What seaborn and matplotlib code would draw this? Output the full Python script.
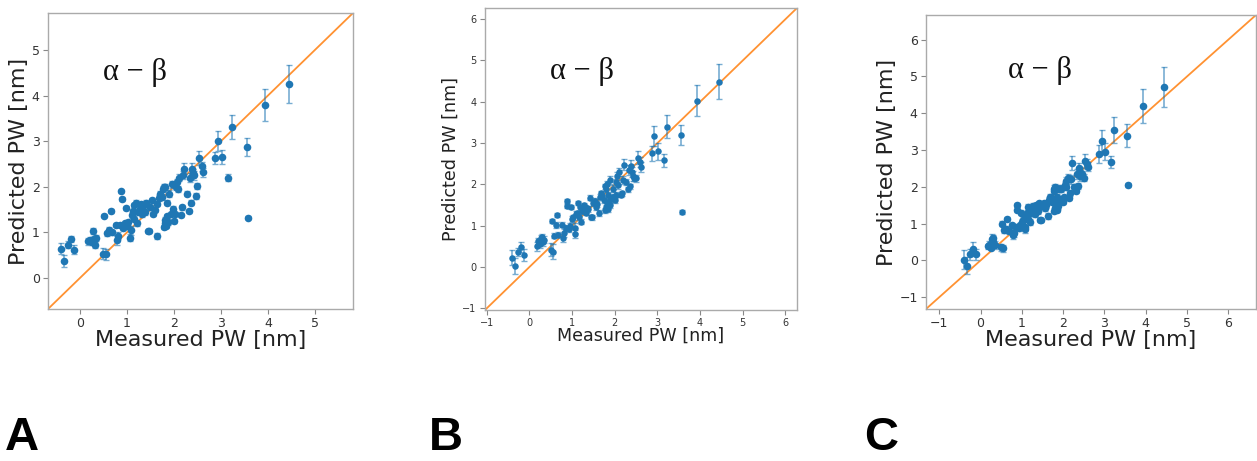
import numpy as np
import pandas as pd
import matplotlib
matplotlib.use("Agg")
import matplotlib.pyplot as plt
import seaborn as sns

# ---------------- data ----------------
measured = [
    -0.40, -0.33, -0.26, -0.19, -0.12,
    0.18, 0.21, 0.25, 0.28, 0.31, 0.34, 0.30,
    0.50, 0.55, 0.52, 0.57, 0.62, 0.65, 0.68,
    0.77, 0.79, 0.81, 0.85, 0.88, 0.89, 0.92, 0.95, 0.97, 1.00, 1.03,
    1.07, 1.08, 1.10, 1.12, 1.14, 1.16, 1.19, 1.21, 1.24, 1.27, 1.30, 1.32,
    1.35, 1.38, 1.41, 1.44, 1.47, 1.50, 1.53, 1.56, 1.59, 1.63, 1.65, 1.68,
    1.71, 1.74, 1.77, 1.79, 1.81, 1.78, 1.80, 1.82, 1.84, 1.86, 1.88, 1.85,
    1.90, 1.93,
    1.95, 1.97, 2.00, 2.02, 2.04, 2.06, 2.08, 2.11, 2.14, 2.17, 2.19, 2.22,
    2.27, 2.32, 2.34, 2.36, 2.38, 2.40, 2.42, 2.46, 2.50, 2.54, 2.59, 2.61,
    2.88, 2.93, 3.02, 3.16, 3.23, 3.55, 3.58, 3.93, 4.45,
]

pred_A = [
    0.64, 0.37, 0.73, 0.86, 0.62,
    0.80, 0.83, 0.78, 1.03, 0.72, 0.87, 0.85,
    0.53, 0.52, 1.37, 0.98, 1.05, 1.47, 1.00,
    1.16, 0.83, 0.93, 1.16, 1.90, 1.73, 1.10, 1.20, 1.53, 1.15, 1.22,
    0.88, 1.05, 1.38, 1.47, 1.60, 1.30, 1.65, 1.20, 1.45, 1.52, 1.62, 1.40,
    1.58, 1.45, 1.65, 1.02, 1.03, 1.55, 1.70, 1.40, 1.50, 0.92, 1.62, 1.75,
    1.85, 1.78, 1.95, 2.00, 2.00, 1.12, 1.20, 1.28, 1.15, 1.35, 1.22, 1.65,
    1.85, 1.40,
    2.05, 1.52, 1.25, 1.40, 2.00, 2.10, 1.95, 2.20, 1.38, 1.55, 2.25, 2.40,
    1.85, 1.47, 2.20, 1.65, 2.40, 2.30, 2.25, 1.80, 2.02, 2.63, 2.45, 2.32,
    2.63, 3.00, 2.65, 2.20, 3.31, 2.87, 1.32, 3.80, 4.25,
]
err_A = [
    0.12, 0.14, 0.08, 0.07, 0.10,
    0.08, 0.07, 0.06, 0.06, 0.06, 0.07, 0.06,
    0.12, 0.12, 0.04, 0.05, 0.06, 0.04, 0.05,
    0.05, 0.10, 0.08, 0.05, 0.04, 0.04, 0.05, 0.06, 0.04, 0.06, 0.05,
    0.08, 0.10, 0.06, 0.05, 0.05, 0.06, 0.05, 0.06, 0.05, 0.05, 0.05, 0.06,
    0.05, 0.06, 0.05, 0.04, 0.04, 0.06, 0.05, 0.05, 0.06, 0.06, 0.05, 0.06,
    0.06, 0.06, 0.06, 0.07, 0.06, 0.05, 0.05, 0.05, 0.05, 0.05, 0.05, 0.06,
    0.07, 0.05,
    0.07, 0.05, 0.05, 0.05, 0.07, 0.08, 0.07, 0.08, 0.05, 0.06, 0.09, 0.12,
    0.06, 0.05, 0.10, 0.06, 0.12, 0.10, 0.10, 0.06, 0.07, 0.15, 0.10, 0.10,
    0.13, 0.22, 0.15, 0.07, 0.27, 0.20, 0.03, 0.35, 0.42,
]

pred_B = [
    0.23, 0.03, 0.37, 0.48, 0.29,
    0.50, 0.62, 0.55, 0.70, 0.60, 0.66, 0.72,
    0.42, 0.37, 1.12, 0.76, 1.02, 1.27, 0.78,
    1.02, 0.70, 0.82, 0.95, 1.60, 1.48, 0.92, 1.00, 1.45, 1.16, 1.20,
    0.80, 0.95, 1.28, 1.30, 1.55, 1.22, 1.45, 1.10, 1.35, 1.50, 1.45, 1.32,
    1.42, 1.40, 1.68, 1.22, 1.20, 1.55, 1.60, 1.45, 1.52, 1.30, 1.70, 1.78,
    1.72, 1.62, 1.95, 1.90, 2.02, 1.38, 1.45, 1.55, 1.40, 1.60, 1.50, 1.75,
    2.10, 1.65,
    1.90, 1.70, 1.62, 1.75, 2.05, 2.20, 1.98, 2.30, 1.75, 1.78, 2.10, 2.48,
    2.05, 1.88, 2.35, 1.95, 2.45, 2.30, 2.20, 2.15, 2.15, 2.65, 2.55, 2.42,
    2.75, 3.18, 2.80, 2.58, 3.40, 3.20, 1.33, 4.03, 4.49,
]
err_B = [
    0.18, 0.20, 0.10, 0.12, 0.15,
    0.10, 0.08, 0.08, 0.08, 0.08, 0.09, 0.08,
    0.15, 0.18, 0.05, 0.06, 0.07, 0.05, 0.06,
    0.06, 0.10, 0.09, 0.06, 0.05, 0.05, 0.06, 0.07, 0.05, 0.07, 0.06,
    0.10, 0.12, 0.07, 0.06, 0.06, 0.07, 0.06, 0.07, 0.06, 0.06, 0.06, 0.07,
    0.06, 0.07, 0.06, 0.05, 0.05, 0.07, 0.06, 0.06, 0.07, 0.07, 0.06, 0.07,
    0.07, 0.07, 0.07, 0.08, 0.07, 0.06, 0.06, 0.06, 0.06, 0.06, 0.06, 0.07,
    0.10, 0.06,
    0.08, 0.06, 0.06, 0.06, 0.08, 0.10, 0.08, 0.10, 0.06, 0.07, 0.10, 0.14,
    0.07, 0.06, 0.12, 0.07, 0.14, 0.12, 0.12, 0.07, 0.08, 0.16, 0.12, 0.12,
    0.18, 0.24, 0.20, 0.15, 0.27, 0.25, 0.04, 0.37, 0.42,
]

pred_C = [
    0.02, -0.14, 0.17, 0.31, 0.17,
    0.38, 0.43, 0.35, 0.58, 0.50, 0.42, 0.60,
    0.36, 0.33, 1.00, 0.82, 0.86, 1.12, 0.80,
    0.95, 0.68, 0.75, 0.90, 1.50, 1.38, 0.88, 0.95, 1.30, 1.05, 1.10,
    0.85, 0.92, 1.20, 1.28, 1.45, 1.12, 1.40, 1.05, 1.30, 1.48, 1.38, 1.25,
    1.50, 1.35, 1.55, 1.10, 1.10, 1.48, 1.55, 1.42, 1.50, 1.20, 1.65, 1.72,
    1.70, 1.60, 1.88, 1.95, 2.00, 1.35, 1.42, 1.48, 1.38, 1.58, 1.47, 1.72,
    1.95, 1.60,
    1.95, 1.65, 1.60, 1.72, 2.05, 2.15, 2.00, 2.25, 1.70, 1.82, 2.20, 2.65,
    2.00, 1.90, 2.35, 2.02, 2.50, 2.40, 2.30, 2.35, 2.25, 2.70, 2.62, 2.55,
    2.90, 3.25, 2.96, 2.68, 3.55, 3.39, 2.05, 4.20, 4.72,
]
err_C = [
    0.25, 0.22, 0.15, 0.20, 0.15,
    0.08, 0.10, 0.08, 0.15, 0.09, 0.10, 0.08,
    0.10, 0.10, 0.06, 0.07, 0.08, 0.06, 0.07,
    0.07, 0.10, 0.10, 0.07, 0.06, 0.06, 0.07, 0.08, 0.06, 0.08, 0.07,
    0.10, 0.12, 0.08, 0.07, 0.07, 0.08, 0.07, 0.08, 0.07, 0.07, 0.07, 0.08,
    0.07, 0.08, 0.07, 0.06, 0.06, 0.08, 0.07, 0.07, 0.08, 0.08, 0.07, 0.08,
    0.08, 0.08, 0.08, 0.09, 0.08, 0.07, 0.07, 0.07, 0.07, 0.07, 0.07, 0.08,
    0.10, 0.07,
    0.09, 0.07, 0.07, 0.07, 0.09, 0.11, 0.09, 0.11, 0.07, 0.08, 0.11, 0.18,
    0.08, 0.07, 0.13, 0.08, 0.15, 0.13, 0.13, 0.08, 0.09, 0.18, 0.13, 0.13,
    0.25, 0.30, 0.22, 0.17, 0.35, 0.32, 0.06, 0.47, 0.55,
]

panel_letters = ["A", "B", "C"]
annotation = "\u03b1 \u2212 \u03b2"
xlabel_text = "Measured PW [nm]"
ylabel_text = "Predicted PW [nm]"

# ---------------- styling ----------------
sns.set_style("white")
plt.rcParams["font.family"] = ["DejaVu Sans"]

BLUE = "#1f77b4"
ORANGE = "#ff7f0e"

fig = plt.figure(figsize=(12.57, 4.61), dpi=100)

W, H = 1257.0, 461.0
def box(l, t, r, b):
    return [l / W, (H - b) / H, (r - l) / W, (b - t) / H]

panels = [
    dict(pos=box(48, 13, 353, 309), y=pred_A, e=err_A, lim=(-0.68, 5.81),
         ticks=[0, 1, 2, 3, 4, 5], lab=16, tick=9, ms=30, txt=(0.285, 0.80),
         lpad=0),
    dict(pos=box(485, 8, 797, 310), y=pred_B, e=err_B, lim=(-1.04, 6.27),
         ticks=[-1, 0, 1, 2, 3, 4, 5, 6], lab=12.6, tick=7, ms=22, txt=(0.31, 0.79),
         lpad=-1),
    dict(pos=box(926, 15, 1256, 309), y=pred_C, e=err_C, lim=(-1.32, 6.67),
         ticks=[-1, 0, 1, 2, 3, 4, 5, 6], lab=16, tick=9, ms=30, txt=(0.345, 0.81),
         lpad=0),
]

for p in panels:
    ax = fig.add_axes(p["pos"])
    df = pd.DataFrame({"measured": measured, "predicted": p["y"], "err": p["e"]})
    ax.errorbar(df["measured"], df["predicted"], yerr=df["err"], fmt="none",
                ecolor=BLUE, alpha=0.6, elinewidth=1.2, capsize=2, capthick=1,
                zorder=2)
    sns.scatterplot(data=df, x="measured", y="predicted", ax=ax, color=BLUE,
                    s=p["ms"], linewidth=0, zorder=3)
    ax.set_xlim(*p["lim"])
    ax.set_ylim(*p["lim"])
    ax.axline((0, 0), slope=1, color=ORANGE, lw=1.3, alpha=0.85, zorder=1)
    ax.set_xticks(p["ticks"])
    ax.set_yticks(p["ticks"])
    ax.tick_params(axis="both", labelsize=p["tick"], colors="#333333",
                   length=3.5, width=0.8, direction="out", bottom=True, left=True,
                   pad=2.5)
    ax.tick_params(axis="both", color="#888888")
    ax.set_xlabel(xlabel_text, fontsize=p["lab"], color="#222222", labelpad=p["lpad"])
    ax.set_ylabel(ylabel_text, fontsize=p["lab"], color="#222222", labelpad=2)
    for s in ax.spines.values():
        s.set_color("#aaaaaa")
        s.set_linewidth(1.0)
    ax.text(p["txt"][0], p["txt"][1], annotation, transform=ax.transAxes,
            fontsize=22, ha="center", va="center",
            family=["Liberation Serif", "DejaVu Serif"], color="#111111")

for letter, xpx in zip(panel_letters, [5, 429, 864]):
    fig.text(xpx / W, 1 / H, letter, fontsize=34, fontweight="bold",
             family=["Liberation Sans Narrow", "Liberation Sans", "DejaVu Sans"],
             color="black", ha="left", va="bottom")

fig.savefig("out.png", dpi=100, facecolor="white")
